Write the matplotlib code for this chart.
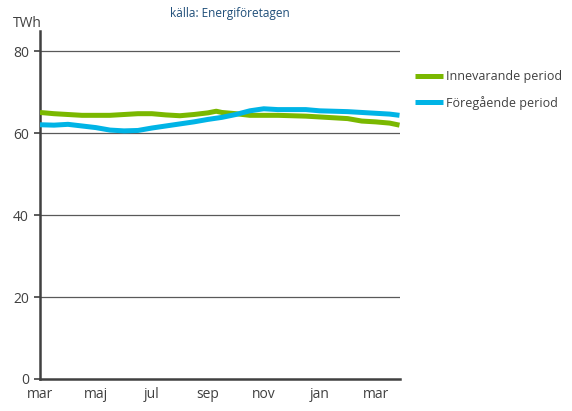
import matplotlib
matplotlib.use("Agg")
import matplotlib.pyplot as plt

plt.rcParams['font.family'] = ['Open Sans', 'DejaVu Sans']

# data: months since march (x), TWh (y)
x_cur = [0, 0.5, 1.0, 1.5, 2.0, 2.5, 3.0, 3.5, 4.0, 4.5, 5.0, 5.5, 6.0, 6.3, 6.5,
         7.0, 7.5, 8.0, 8.5, 9.0, 9.5, 10.0, 10.5, 11.0, 11.5, 12.0, 12.5, 12.85]
y_cur = [65.1, 64.8, 64.6, 64.4, 64.4, 64.4, 64.6, 64.8, 64.8, 64.5, 64.3, 64.6, 65.0, 65.4, 65.1,
         64.8, 64.4, 64.4, 64.4, 64.3, 64.2, 64.0, 63.8, 63.6, 63.0, 62.8, 62.5, 62.0]
x_prev = [0, 0.5, 1.0, 1.5, 2.0, 2.5, 3.0, 3.5, 4.0, 4.5, 5.0, 5.5, 6.0, 6.5,
          7.0, 7.5, 8.0, 8.5, 9.0, 9.5, 10.0, 10.5, 11.0, 11.5, 12.0, 12.5, 12.85]
y_prev = [62.1, 62.0, 62.2, 61.8, 61.4, 60.8, 60.6, 60.7, 61.3, 61.8, 62.3, 62.8, 63.4, 63.9,
          64.6, 65.5, 66.0, 65.8, 65.8, 65.8, 65.5, 65.4, 65.3, 65.1, 64.9, 64.7, 64.4]
month_labels = ['mar', 'maj', 'jul', 'sep', 'nov', 'jan', 'mar']
month_pos = [0, 2, 4, 6, 8, 10, 12]
y_ticks = [0, 20, 40, 60, 80]

fig = plt.figure(figsize=(5.72, 4.11), dpi=100)
ax = fig.add_axes([0.0699, 0.0779, 0.629, 0.8467])

for t in y_ticks[1:]:
    ax.axhline(t, color='#595959', lw=0.9, zorder=1)

ax.plot(x_cur, y_cur, color='#7ab800', lw=3.6, label='Innevarande period', zorder=3, solid_capstyle='butt')
ax.plot(x_prev, y_prev, color='#00b4e6', lw=3.6, label='Föregående period', zorder=3, solid_capstyle='butt')

ax.set_xlim(0, 12.86)
ax.set_ylim(0, 85)
ax.set_yticks(y_ticks)
ax.set_xticks(month_pos)
ax.set_xticklabels(month_labels)
ax.tick_params(axis='x', length=0, pad=6, labelsize=10, colors='#404040')
ax.tick_params(axis='y', length=4, width=1.2, color='#404040', pad=4, labelsize=10, labelcolor='#404040')

for s in ['top', 'right']:
    ax.spines[s].set_visible(False)
ax.spines['left'].set_color('#404040')
ax.spines['left'].set_linewidth(1.8)
ax.spines['bottom'].set_color('#404040')
ax.spines['bottom'].set_linewidth(1.8)

fig.text(0.022, 0.935, 'TWh', fontsize=10, color='#404040')
fig.text(0.402, 0.958, 'källa: Energiföretagen', fontsize=8.5, color='#1f4e79', ha='center')

ax.legend(loc='upper left', bbox_to_anchor=(1.01, 0.92), frameon=False, fontsize=9,
          handlelength=2.3, handletextpad=0.2, labelspacing=1.0, labelcolor='#404040')

fig.savefig('out.png', dpi=100)
